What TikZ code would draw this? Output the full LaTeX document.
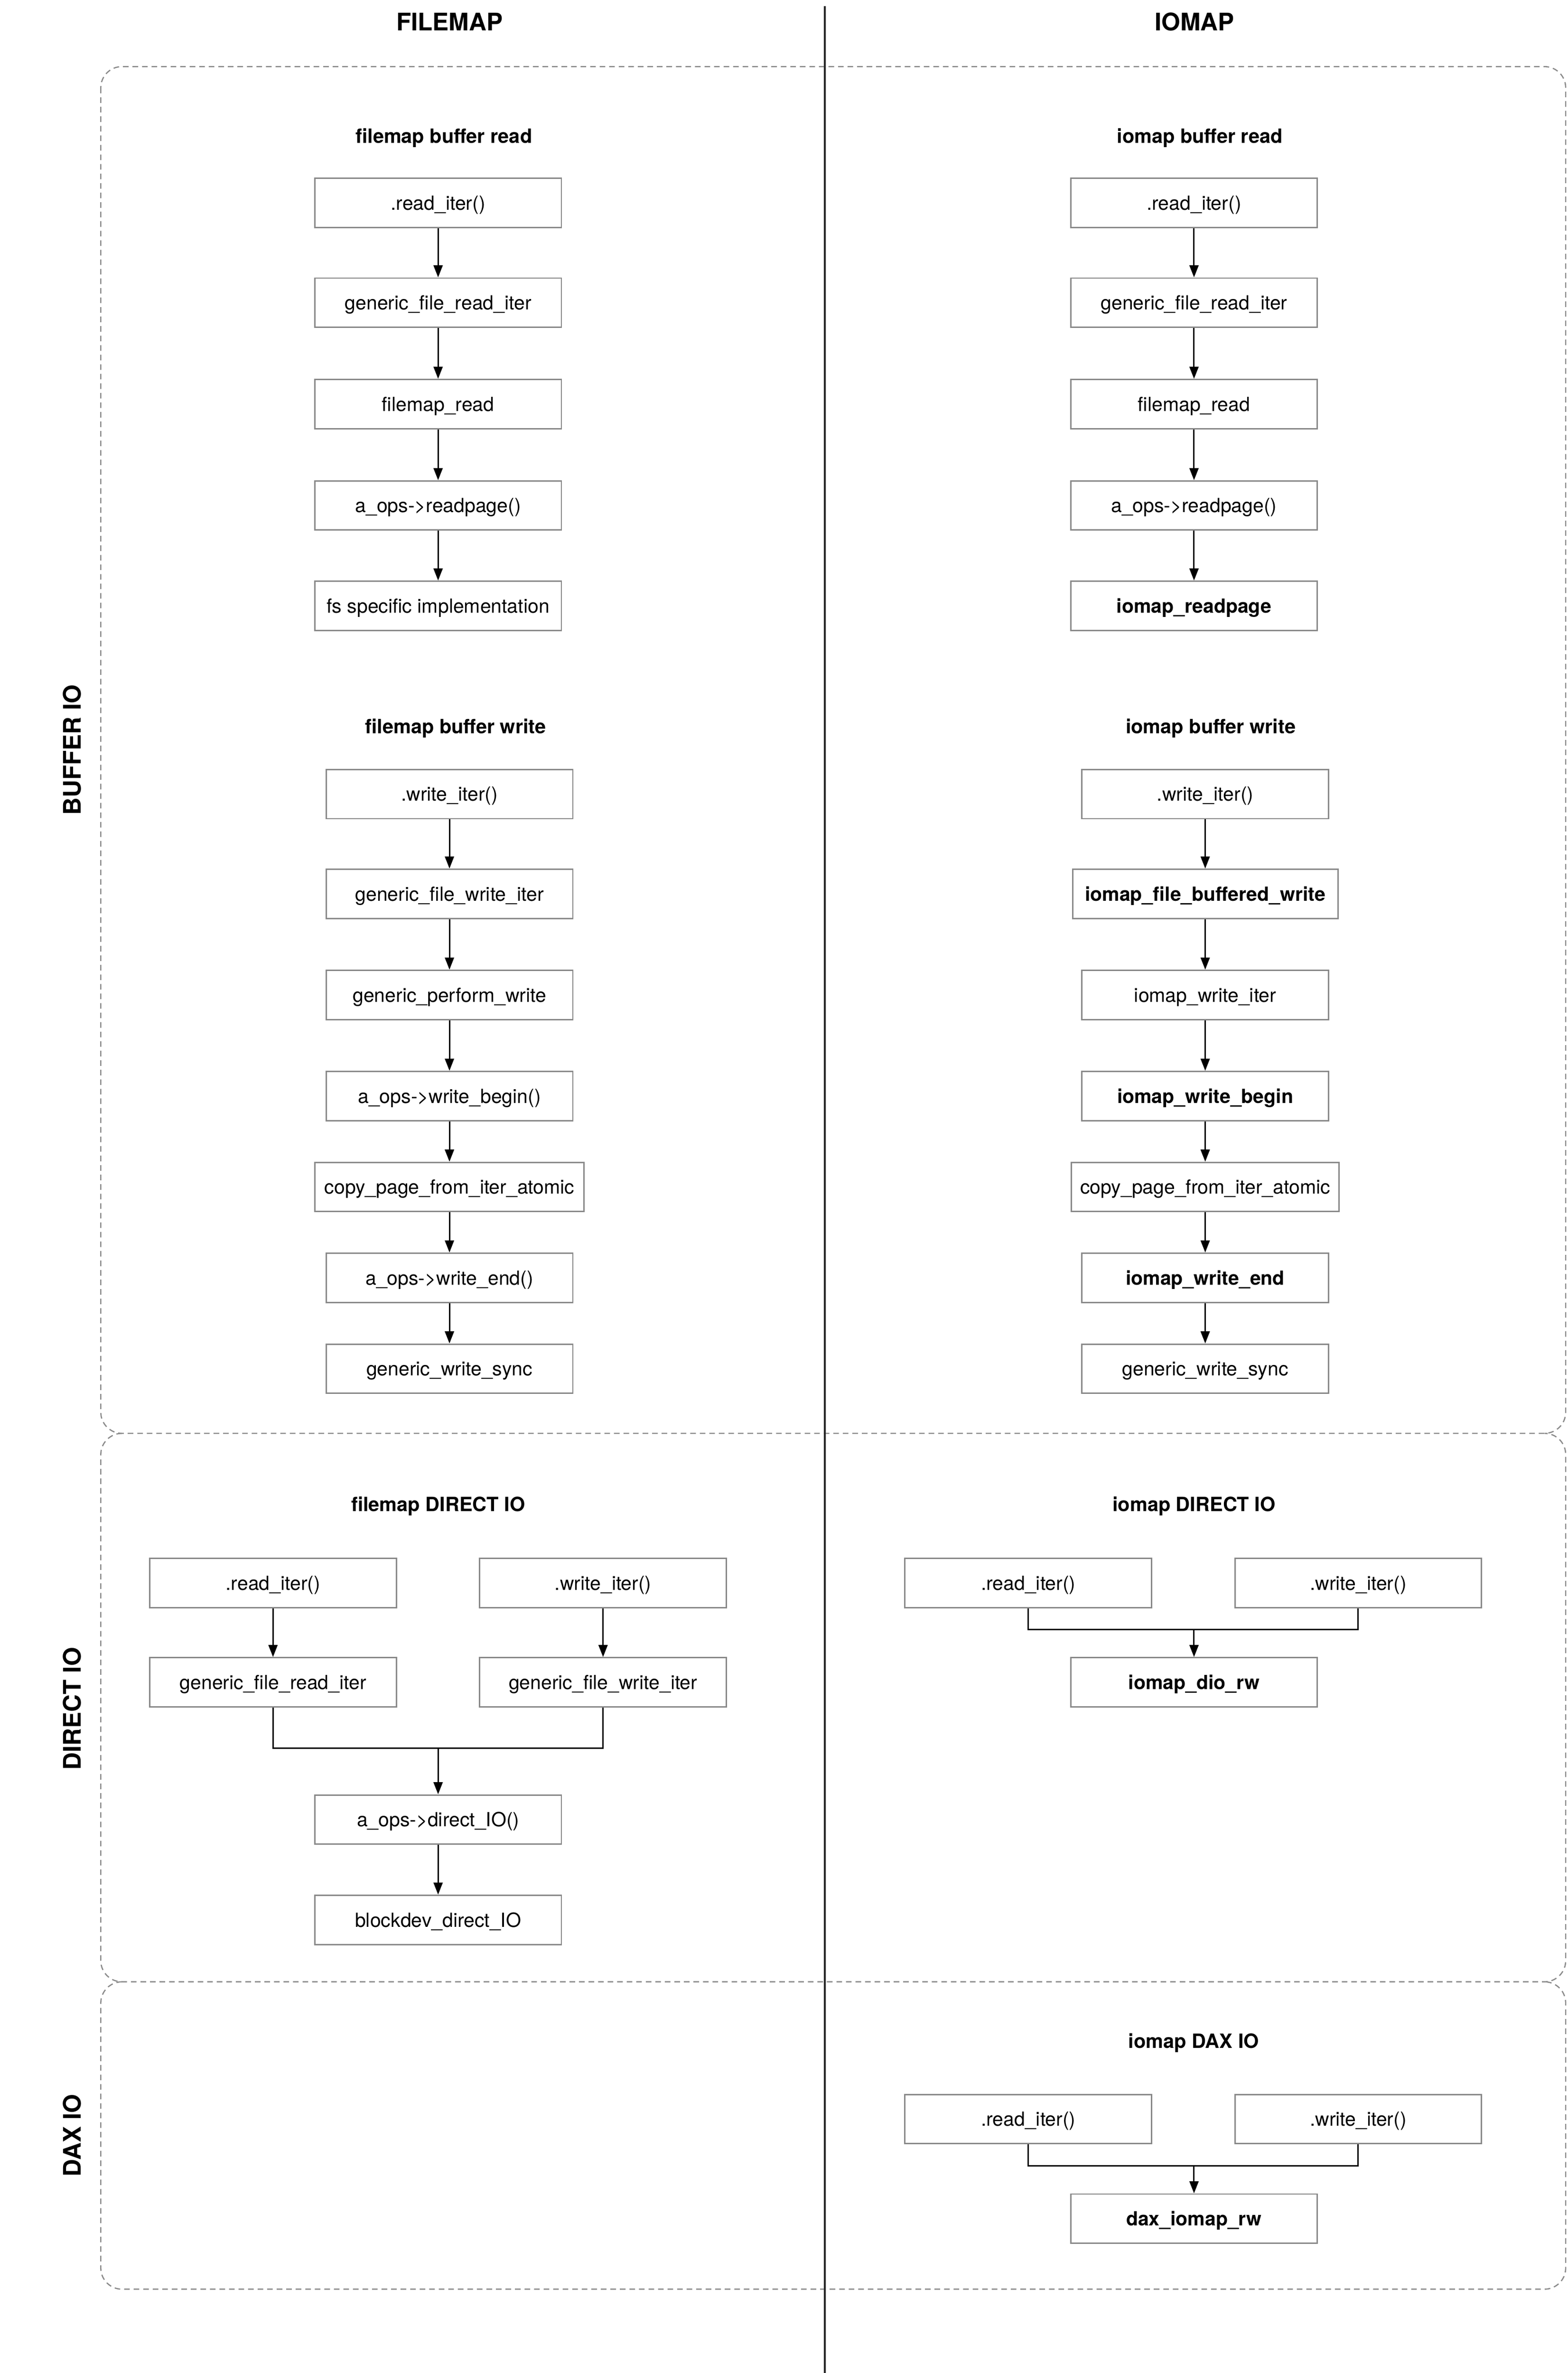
\documentclass[tikz,border=0pt]{standalone}
\usepackage{fontspec}
\setmainfont{TeX Gyre Heros}
\usetikzlibrary{arrows.meta}
\definecolor{boxgray}{RGB}{136,136,136}
\definecolor{dashgray}{RGB}{138,138,138}
\begin{document}
\begin{tikzpicture}[x=1pt,y=-1pt,
  fn/.style={draw=boxgray, line width=0.9pt, fill=white, minimum width=163pt, minimum height=32.5pt,
    inner sep=0pt, text height=9.25pt, text depth=0pt, font=\fontsize{12.85}{15}\selectfont},
  fnb/.style={fn, font=\fontsize{12.85}{15}\selectfont\bfseries},
  ttl/.style={anchor=base, inner sep=0pt, font=\fontsize{13}{15}\selectfont\bfseries},
  hdr/.style={anchor=base, inner sep=0pt, font=\fontsize{16}{19}\selectfont\bfseries},
  side/.style={rotate=90, inner sep=0pt, font=\fontsize{16}{19}\selectfont\bfseries},
  arr/.style={draw=black, line width=0.95pt, -{Triangle[width=6pt,length=8pt]}},
  lnk/.style={draw=black, line width=0.95pt},
  sect/.style={draw=dashgray, line width=0.8pt, dash pattern=on 3.7pt off 2.6pt, rounded corners=14pt},
]
\useasboundingbox (0,0) rectangle (1035.93,1568);

% section frames (shared edges drawn once)
\draw[sect] (66.6,44) rectangle (1034.6,947.1);
\draw[sect] (80.6,947.1) -- (66.6,947.1) -- (66.6,1309.5) -- (1034.6,1309.5) -- (1034.6,947.1) -- (1020.6,947.1);
\draw[sect] (80.6,1309.5) -- (66.6,1309.5) -- (66.6,1512.6) -- (1034.6,1512.6) -- (1034.6,1309.5) -- (1020.6,1309.5);

% column divider
\draw[line width=1pt, black!85] (545,4) -- (545,1568);

% headers
\node[hdr] (hfile) at (297,20.3) {FILEMAP};
\node[hdr] (hio) at (789.3,20.3) {IOMAP};
\node[side] (sbuf) at (47.7,495.5) {BUFFER IO};
\node[side] (sdir) at (47.7,1129) {DIRECT IO};
\node[side] (sdax) at (47.7,1411) {DAX IO};

% ---------- filemap buffer read
\node[ttl] (tfr) at (293.3,94.6) {filemap buffer read};
\node[fn] (fr1) at (289.5,134) {.read\_iter()};
\node[fn] (fr2) at (289.5,200) {generic\_file\_read\_iter};
\node[fn] (fr3) at (289.5,267) {filemap\_read};
\node[fn] (fr4) at (289.5,334) {a\_ops->readpage()};
\node[fn] (fr5) at (289.5,400.3) {fs specific implementation};
\foreach \a/\b in {fr1/fr2,fr2/fr3,fr3/fr4,fr4/fr5} \draw[arr] (\a.south) -- (\b.north);

% ---------- iomap buffer read
\node[ttl] (tir) at (792.8,94.6) {iomap buffer read};
\node[fn] (ir1) at (789,134) {.read\_iter()};
\node[fn] (ir2) at (789,200) {generic\_file\_read\_iter};
\node[fn] (ir3) at (789,267) {filemap\_read};
\node[fn] (ir4) at (789,334) {a\_ops->readpage()};
\node[fnb] (ir5) at (789,400.3) {iomap\_readpage};
\foreach \a/\b in {ir1/ir2,ir2/ir3,ir3/ir4,ir4/ir5} \draw[arr] (\a.south) -- (\b.north);

% ---------- filemap buffer write
\node[ttl] (tfw) at (301,484.6) {filemap buffer write};
\node[fn] (fw1) at (297,524.7) {.write\_iter()};
\node[fn] (fw2) at (297,590.6) {generic\_file\_write\_iter};
\node[fn] (fw3) at (297,657.4) {generic\_perform\_write};
\node[fn] (fw4) at (297,724.2) {a\_ops->write\_begin()};
\node[fn, minimum width=178pt] (fw5) at (297,784.3) {copy\_page\_from\_iter\_atomic};
\node[fn] (fw6) at (297,844.3) {a\_ops->write\_end()};
\node[fn] (fw7) at (297,904.4) {generic\_write\_sync};
\foreach \a/\b in {fw1/fw2,fw2/fw3,fw3/fw4,fw4/fw5,fw5/fw6,fw6/fw7} \draw[arr] (\a.south) -- (\b.north);

% ---------- iomap buffer write
\node[ttl] (tiw) at (800,484.6) {iomap buffer write};
\node[fn] (iw1) at (796.4,524.7) {.write\_iter()};
\node[fnb, minimum width=175.3pt] (iw2) at (796.4,590.6) {iomap\_file\_buffered\_write};
\node[fn] (iw3) at (796.4,657.4) {iomap\_write\_iter};
\node[fnb] (iw4) at (796.4,724.2) {iomap\_write\_begin};
\node[fn, minimum width=177pt] (iw5) at (796.4,784.3) {copy\_page\_from\_iter\_atomic};
\node[fnb] (iw6) at (796.4,844.3) {iomap\_write\_end};
\node[fn] (iw7) at (796.4,904.4) {generic\_write\_sync};
\foreach \a/\b in {iw1/iw2,iw2/iw3,iw3/iw4,iw4/iw5,iw5/iw6,iw6/iw7} \draw[arr] (\a.south) -- (\b.north);

% ---------- filemap DIRECT IO
\node[ttl] (tfd) at (289.5,998.5) {filemap DIRECT IO};
\node[fn] (fdr1) at (180.4,1046) {.read\_iter()};
\node[fn] (fdw1) at (398.5,1046) {.write\_iter()};
\node[fn] (fdr2) at (180.4,1111.6) {generic\_file\_read\_iter};
\node[fn] (fdw2) at (398.5,1111.6) {generic\_file\_write\_iter};
\node[fn] (fdo) at (289.5,1202.3) {a\_ops->direct\_IO()};
\node[fn] (fdb) at (289.5,1268.6) {blockdev\_direct\_IO};
\coordinate (jfd) at (289.5,1155);
\draw[arr] (fdr1.south) -- (fdr2.north);
\draw[arr] (fdw1.south) -- (fdw2.north);
\draw[lnk] (fdr2.south) |- (jfd) -| (fdw2.south);
\draw[arr] (jfd) -- (fdo.north);
\draw[arr] (fdo.south) -- (fdb.north);

% ---------- iomap DIRECT IO
\node[ttl] (tid) at (789,998.5) {iomap DIRECT IO};
\node[fn] (idr) at (679.5,1046) {.read\_iter()};
\node[fn] (idw) at (897.5,1046) {.write\_iter()};
\node[fnb] (idio) at (789,1111.6) {iomap\_dio\_rw};
\coordinate (jid) at (789,1076.8);
\draw[lnk] (idr.south) |- (jid) -| (idw.south);
\draw[arr] (jid) -- (idio.north);

% ---------- iomap DAX IO
\node[ttl] (tdax) at (788.8,1353.2) {iomap DAX IO};
\node[fn] (xr) at (679.5,1400.2) {.read\_iter()};
\node[fn] (xw) at (897.5,1400.2) {.write\_iter()};
\node[fnb] (xrw) at (789,1466) {dax\_iomap\_rw};
\coordinate (jx) at (789,1431);
\draw[lnk] (xr.south) |- (jx) -| (xw.south);
\draw[arr] (jx) -- (xrw.north);
\end{tikzpicture}
\end{document}
